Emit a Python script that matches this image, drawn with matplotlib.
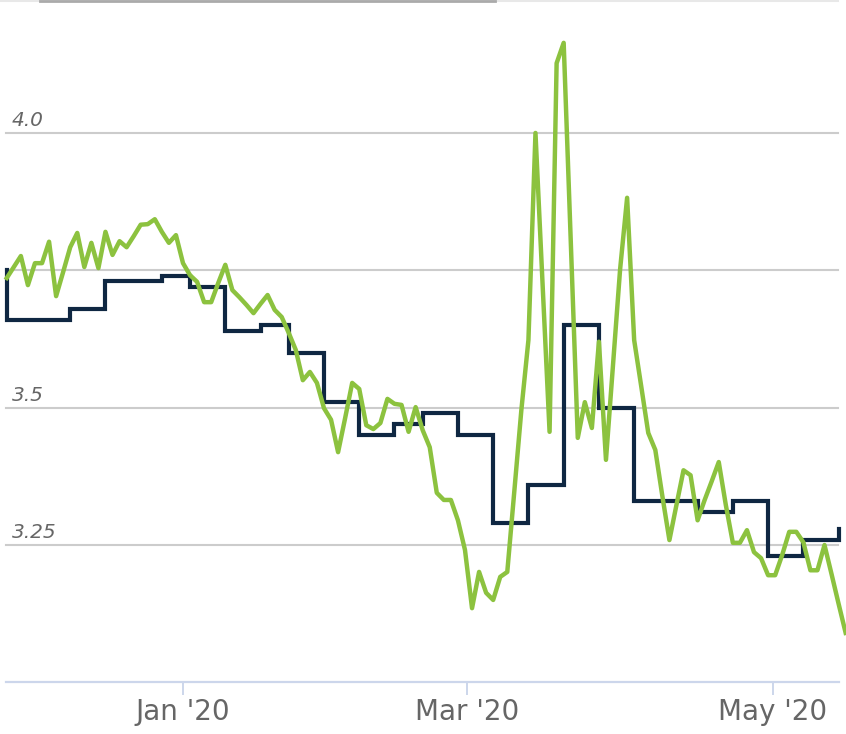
import numpy as np
import matplotlib
matplotlib.use("Agg")
import matplotlib.pyplot as plt
from matplotlib.lines import Line2D

# daily rate (one value per trading day, late Nov 2019 -> mid May 2020)
daily_rate = [
    3.736, 3.756, 3.776, 3.723, 3.763, 3.763, 3.802, 3.703, 3.747, 3.792,
    3.818, 3.756, 3.800, 3.754, 3.820, 3.778, 3.803, 3.792, 3.812, 3.833,
    3.834, 3.843, 3.820, 3.800, 3.814, 3.763, 3.741, 3.729, 3.692, 3.692,
    3.727, 3.760, 3.714, 3.701, 3.687, 3.672, 3.689, 3.705, 3.678, 3.665,
    3.636, 3.605, 3.550, 3.565, 3.545, 3.499, 3.478, 3.419, 3.481, 3.545,
    3.534, 3.468, 3.461, 3.472, 3.516, 3.507, 3.505, 3.456, 3.501, 3.459,
    3.428, 3.345, 3.332, 3.332, 3.295, 3.241, 3.135, 3.201, 3.163, 3.150,
    3.192, 3.201, 3.348, 3.496, 3.623, 4.000, 3.727, 3.456, 4.127, 4.164,
    3.805, 3.445, 3.510, 3.463, 3.620, 3.405, 3.578, 3.751, 3.882, 3.623,
    3.539, 3.454, 3.423, 3.339, 3.259, 3.323, 3.386, 3.377, 3.295, 3.332,
    3.366, 3.401, 3.323, 3.254, 3.254, 3.277, 3.237, 3.226, 3.195, 3.195,
    3.232, 3.274, 3.274, 3.255, 3.204, 3.204, 3.250, 3.197, 3.143, 3.090,
]

# weekly survey rate: trading-day index where each value starts
weekly_start = [0, 0, 9, 14, 22, 26, 31, 36, 40, 45, 50, 55, 59, 64, 69,
                74, 79, 84, 89, 94, 98, 103, 108, 113, 118]
weekly_rate = [3.75, 3.66, 3.68, 3.73, 3.74, 3.72, 3.64, 3.65, 3.60, 3.51,
               3.45, 3.47, 3.49, 3.45, 3.29, 3.36, 3.65, 3.50, 3.33, 3.33,
               3.31, 3.33, 3.23, 3.26, 3.28]

tick_pos = [25.0, 65.3, 108.7]
tick_labels = ["Jan '20", "Mar '20", "May '20"]
grid_levels = [4.0, 3.75, 3.5, 3.25]
ylabels = {4.0: "4.0", 3.5: "3.5", 3.25: "3.25"}

W, H = 846, 734
fig = plt.figure(figsize=(W / 100, H / 100), dpi=100)
ax = fig.add_axes([0, 0, 1, 1])
ax.set_xlim(-0.96, 119.05)
ax.set_ylim(2.906, 4.242)

for side in ["top", "left", "right"]:
    ax.spines[side].set_visible(False)
ax.spines["bottom"].set_position(("data", 3.0))
ax.spines["bottom"].set_color("#ccd6eb")
ax.spines["bottom"].set_linewidth(1.6)
ax.spines["bottom"].set_bounds(-0.11, 118)

x0, x1 = 6 / W, 838 / W
for lv in grid_levels:
    ax.axhline(lv, xmin=x0, xmax=x1, color="#cccccc", lw=1.5, zorder=1)

for lv, txt in ylabels.items():
    ax.annotate(txt, xy=(12 / W, lv), xycoords=("axes fraction", "data"),
                xytext=(0, 5), textcoords="offset points", ha="left",
                va="baseline", fontsize=14.5, style="italic", color="#666666")

ax.plot(weekly_start, weekly_rate, drawstyle="steps-post", color="#0f2742",
        lw=3, solid_joinstyle="miter", zorder=2)
ax.plot(np.arange(len(daily_rate)), daily_rate, color="#8cc23f", lw=3.2,
        solid_joinstyle="round", zorder=3)

ax.set_yticks([])
ax.set_xticks(tick_pos, tick_labels)
ax.tick_params(axis="x", direction="out", length=9, width=1.4,
               color="#ccd6eb", labelsize=20, labelcolor="#666666", pad=2)

# thin border of the widget above the chart
fig.add_artist(Line2D([0, 838 / W], [1 - 1 / H, 1 - 1 / H], color="#e8e8e8", lw=1.5))
fig.add_artist(Line2D([40 / W, 495 / W], [1 - 1 / H, 1 - 1 / H], color="#aaaaaa", lw=2))

fig.savefig("out.png", dpi=100)
plt.close(fig)
